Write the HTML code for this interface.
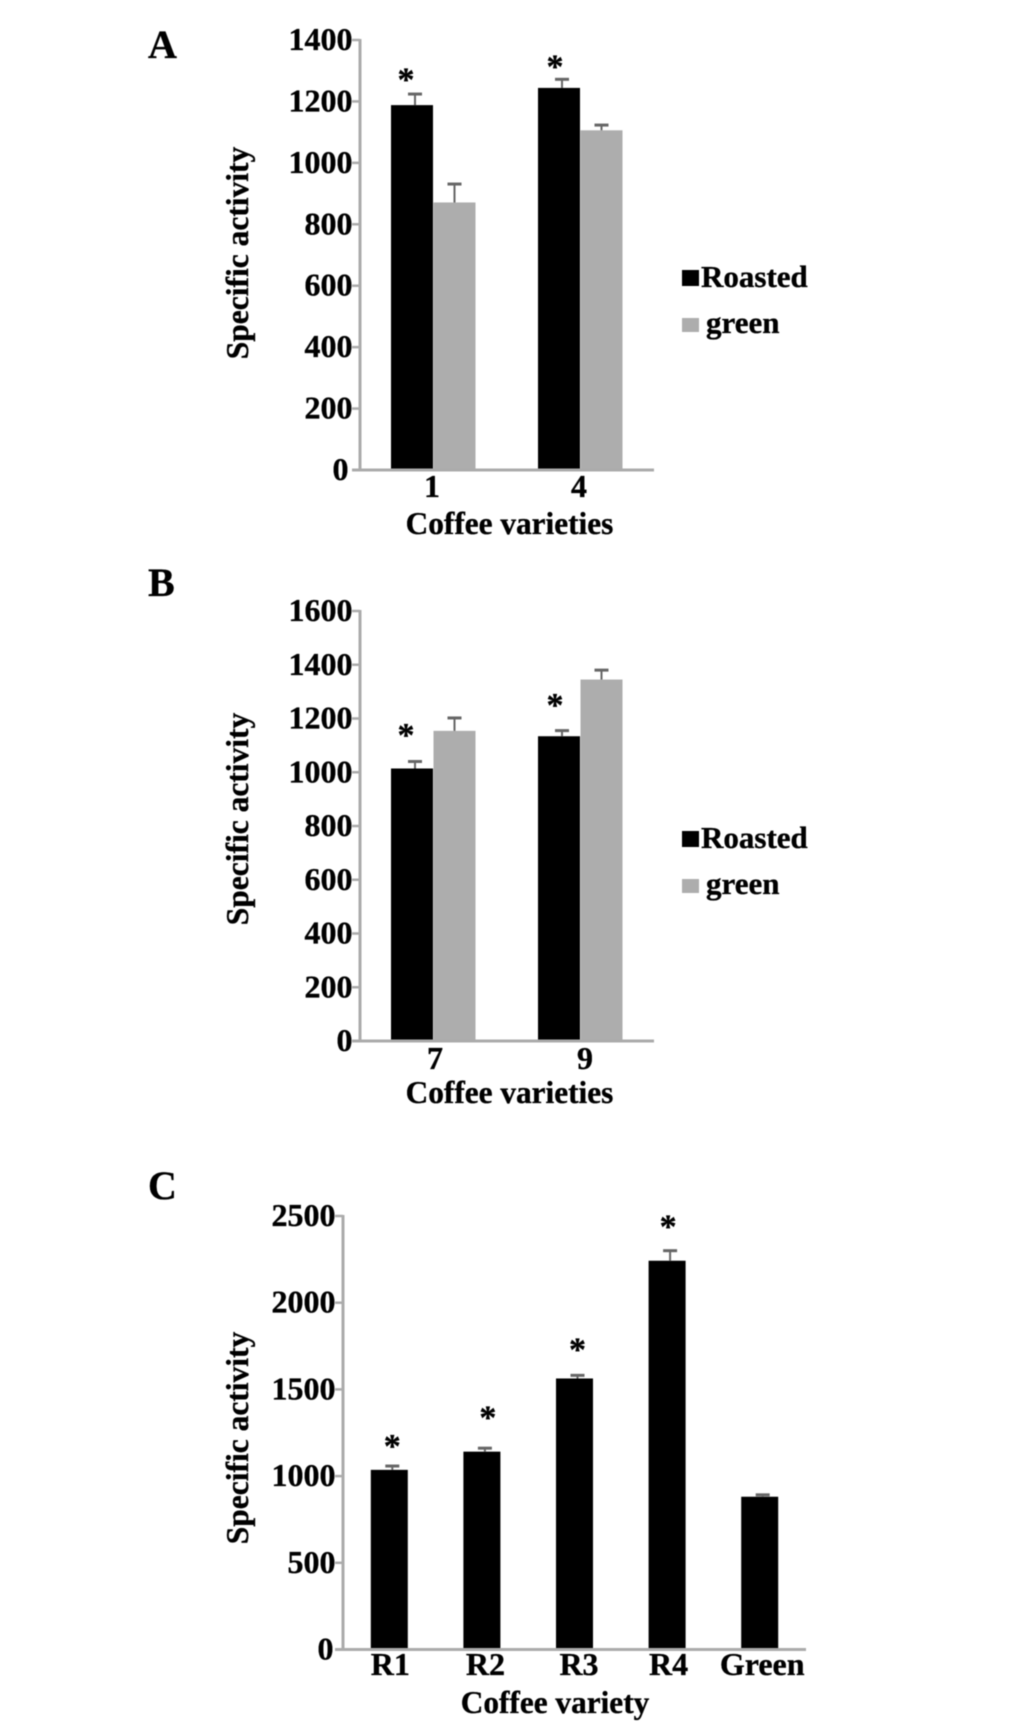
<!DOCTYPE html>
<html>
<head>
<meta charset="utf-8">
<title>Coffee specific activity</title>
<style>
html,body{margin:0;padding:0;background:#fff;}
svg{display:block;filter:blur(0.45px);}
text{font-family:"Liberation Serif",serif;font-weight:bold;fill:#000;stroke:#000;stroke-width:0.35px;}
</style>
</head>
<body>
<svg id="figure" width="1033" height="1732" viewBox="0 0 1033 1732" xmlns="http://www.w3.org/2000/svg"></svg>
<script>
// Panel A data
const catsA = ['1', '4'];
const ticksA = [0, 200, 400, 600, 800, 1000, 1200, 1400];
const roastedA = [1188, 1244];
const greenA = [871, 1106];
const roastedErrA = [36, 28];
const greenErrA = [60, 17];
const starsA = [1288, 1330];

// Panel B data
const catsB = ['7', '9'];
const ticksB = [0, 200, 400, 600, 800, 1000, 1200, 1400, 1600];
const roastedB = [1014, 1134];
const greenB = [1154, 1345];
const roastedErrB = [26, 21];
const greenErrB = [48, 35];
const starsB = [1158, 1269];

// Panel C data
const catsC = ['R1', 'R2', 'R3', 'R4', 'Green'];
const ticksC = [0, 500, 1000, 1500, 2000, 2500];
const roastedC = [1036, 1141, 1563, 2242, 881];
const roastedErrC = [22, 20, 18, 58, 11];
const starsC = [1203, 1368, 1758, 2469];

const svg = document.getElementById('figure');
const NS = 'http://www.w3.org/2000/svg';
const AXIS = '#ababab';
const GREY = '#adadad';

function make(tag, attrs, parent) {
  const el = document.createElementNS(NS, tag);
  for (const k in attrs) el.setAttribute(k, attrs[k]);
  parent.appendChild(el);
  return el;
}

function label(parent, str, x, y, size, anchor) {
  const t = make('text', { x: x, y: y, 'font-size': size, 'text-anchor': anchor }, parent);
  t.textContent = str;
  return t;
}

function drawPanel(cfg) {
  const g = make('g', {}, svg);
  
  

  const maxV = cfg.ticks[cfg.ticks.length - 1];
  const yOf = v => cfg.y0 - (v / maxV) * (cfg.y0 - cfg.yTop);
  const band = (cfg.xEnd - cfg.xAxis) / cfg.cats.length;
  const xOf = i => cfg.xAxis + cfg.xNudge + band * (i + 0.5);

  const letter = label(g, cfg.id, cfg.letterX, cfg.letterY, 40, 'start');
  
  

  // bars
  cfg.series.forEach((s) => {
    s.values.forEach((v, i) => {
      const cx = xOf(i) + s.offset;
      const bar = make('rect', { x: cx - s.width / 2, y: yOf(v), width: s.width, height: cfg.y0 - yOf(v), fill: s.color }, g);
      
      

      const ex = cx + s.errShift;
      const errTop = yOf(v + s.errs[i]);
      const stem = make('line', { x1: ex, x2: ex, y1: yOf(v), y2: errTop, stroke: '#666', 'stroke-width': 2 }, g);
      
      
      const cap = make('line', { x1: ex - 7, x2: ex + 7, y1: errTop, y2: errTop, stroke: '#666', 'stroke-width': 3 }, g);
      
      
    });
  });

  // significance stars
  cfg.stars.forEach((v, i) => {
    const star = label(g, '*', xOf(i) + cfg.starDx + cfg.starNudge[i], yOf(v) + 16, 34, 'middle');
    
    
  });

  // axes
  const yAxis = make('line', { x1: cfg.xAxis, x2: cfg.xAxis, y1: cfg.yTop - 1, y2: cfg.y0 + 1, stroke: AXIS, 'stroke-width': 3 }, g);
  
  
  const xAxis = make('line', { x1: cfg.xAxis - 8, x2: cfg.xEnd, y1: cfg.y0, y2: cfg.y0, stroke: AXIS, 'stroke-width': 3 }, g);
  
  

  cfg.ticks.forEach((v) => {
    const tick = make('line', { x1: cfg.xAxis - 8, x2: cfg.xAxis, y1: yOf(v), y2: yOf(v), stroke: AXIS, 'stroke-width': 2.5 }, g);
    
    
    const zeroShift = v === 0 ? cfg.zeroDx : 0;
    const tl = label(g, String(v), cfg.xAxis - 7.5 + zeroShift, yOf(v) + 10, 32, 'end');
    
    
  });

  cfg.cats.forEach((c, i) => {
    const xl = label(g, c, xOf(i) + cfg.catNudge[i], cfg.catY, 32, 'middle');
    
    
  });

  const xt = label(g, cfg.xTitle, cfg.xTitleX, cfg.xTitleY, 31.3, 'middle');
  
  

  const yt = label(g, 'Specific activity', 0, 0, 31.5, 'middle');
  yt.setAttribute('transform', 'translate(' + cfg.yTitleX + ',' + cfg.yTitleY + ') rotate(-90)');
  
  

  if (cfg.legendY) {
    const s1 = make('rect', { x: 682, y: cfg.legendY, width: 17, height: 16, fill: '#000' }, g);
    
    
    const t1 = label(g, 'Roasted', 701, cfg.legendY + 17, 31, 'start');
    
    
    const s2 = make('rect', { x: 682, y: cfg.legendY + 48, width: 17, height: 14, fill: GREY }, g);
    
    
    const t2 = label(g, 'green', 706, cfg.legendY + 63, 31, 'start');
    
    
  }
}

drawPanel({
  id: 'A', cats: catsA, ticks: ticksA, xAxis: 360, xEnd: 654, yTop: 40, y0: 470, xNudge: -0.5,
  series: [
    { name: 'roasted', values: roastedA, errs: roastedErrA, color: '#000', offset: -21, width: 42, errShift: 3 },
    { name: 'green', values: greenA, errs: greenErrA, color: GREY, offset: 21.5, width: 42, errShift: 0 }
  ],
  stars: starsA, starDx: -27, starNudge: [0, 2], catNudge: [-1, -1], catY: 497, zeroDx: -4, letterX: 148, letterY: 58,
  xTitle: 'Coffee varieties', xTitleX: 509.5, xTitleY: 534, yTitleX: 248, yTitleY: 253, legendY: 270
});

drawPanel({
  id: 'B', cats: catsB, ticks: ticksB, xAxis: 360, xEnd: 654, yTop: 611, y0: 1041, xNudge: -0.5,
  series: [
    { name: 'roasted', values: roastedB, errs: roastedErrB, color: '#000', offset: -21, width: 42, errShift: 3 },
    { name: 'green', values: greenB, errs: greenErrB, color: GREY, offset: 21.5, width: 42, errShift: 0 }
  ],
  stars: starsB, starDx: -27, starNudge: [0, 2], catNudge: [2, 5], catY: 1069, zeroDx: 0, letterX: 148, letterY: 596,
  xTitle: 'Coffee varieties', xTitleX: 509.5, xTitleY: 1103, yTitleX: 248, yTitleY: 819, legendY: 831
});

drawPanel({
  id: 'C', cats: catsC, ticks: ticksC, xAxis: 343, xEnd: 806, yTop: 1216, y0: 1649.5, xNudge: 0,
  series: [
    { name: 'activity', values: roastedC, errs: roastedErrC, color: '#000', offset: 0, width: 37, errShift: 3 }
  ],
  stars: starsC, starDx: 3, starNudge: [0, 3, 0, -2], catNudge: [1, 3.5, 4.5, 1.5, 2.5], catY: 1675, zeroDx: -2, letterX: 148, letterY: 1199,
  xTitle: 'Coffee variety', xTitleX: 555, xTitleY: 1713, yTitleX: 248, yTitleY: 1438
});
</script>
</body>
</html>
